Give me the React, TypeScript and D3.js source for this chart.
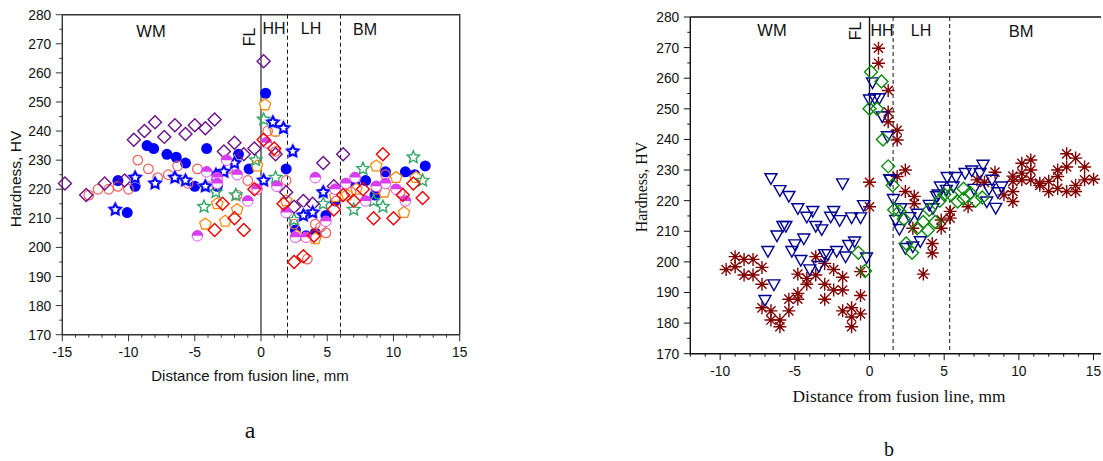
import React, { useEffect, useRef } from 'react';
import * as d3 from 'd3';

type Pt = [number, number];

// panel a series: [distance, hardness]
const blueDots: Pt[] = [[-10.8,223],[-10.1,212],[-9.5,221],[-8.6,235],[-8.1,234],[-7.1,232],[-6.4,231],[-5.7,229],[-5,221],[-4.1,234],[-3.3,221],[-1.7,232],[-0.9,227],[0.35,253],[1.1,240],[1.9,227],[2.6,206],[3.4,204],[4.1,205],[4.9,211],[5.6,216],[7.1,221.5],[7.9,223],[8.6,218],[9.4,226],[10.9,226],[11.6,225],[12.4,228]];
const orangePentagons: Pt[] = [[-4.2,208],[-3.3,215],[-2.7,209],[-1.8,213],[-0.3,228],[0.3,249],[1.1,240],[1.9,216],[2.7,204],[4.1,203],[5.6,217.5],[6.5,218],[7.2,220],[8.7,228],[9.3,219],[10.2,224],[10.8,212],[11.7,224]];
const coralRings: Pt[] = [[-13,218],[-12.3,220],[-11.5,220],[-10.8,221],[-10,220],[-9.3,230],[-8.5,227],[-7.8,224],[-7,225],[-6.3,228],[-5.5,222],[-4.8,227],[-4,221],[-3.3,223],[-2.5,227],[-1.8,218],[-1,223],[0.5,240],[1.1,233],[1.9,223],[2.5,208],[3.5,196],[4.1,208],[4.5,207],[4.9,205],[5.7,216],[6.8,219],[8.7,220],[9.4,225],[10.5,219]];
const magentaHalves: Pt[] = [[-4.8,204],[-4.1,226],[-3.3,224],[-3.3,222],[-2.6,230],[-1.8,225],[-1,216],[-0.3,220],[0.4,236],[1.2,221],[1.9,212],[2.6,203.5],[3.4,203.5],[4.1,224],[4.9,209],[5.6,220],[6.4,222],[7.1,224],[7.9,216],[8.7,221],[9.4,222],[10.2,220],[10.9,216]];
const redDiamonds: Pt[] = [[-3.5,206],[-2.9,215],[-2,210],[-1.3,206],[-0.5,220],[0.2,237],[1,234],[1.7,215],[2.5,195],[3.2,197],[4,204],[5.5,213],[6.2,218],[7,216],[7.7,220],[8.5,210],[9.2,232],[10,210],[10.7,218],[11.5,222],[12.2,217]];
const purpleDiamonds: Pt[] = [[-14.8,222],[-13.2,218],[-11.8,222],[-10.3,223],[-9.6,237],[-8.8,240],[-8,243],[-7.3,238],[-6.5,242],[-5.7,239],[-5,242],[-4.2,241],[-3.5,244],[-2.8,233],[-2,236],[-1.3,232],[-0.5,234],[0.2,264],[1.1,232],[1.9,219],[2.5,214],[3.2,216],[3.9,215],[4.7,229],[5.5,221],[6.2,232]];
const greenStars: Pt[] = [[-4.3,214],[-3.4,219],[-1.9,218],[-0.4,230],[0.2,244],[1.1,224],[2.5,209.5],[4.7,215],[7,213],[7.7,227],[8.5,216],[9.2,214],[11.5,231],[12.2,223]];
const blueStars: Pt[] = [[-11,213],[-9.5,224],[-8,222],[-6.5,224],[-5.7,223],[-4.2,221],[-3.4,225],[-2.8,226],[-2,229],[0.2,223],[0.9,243],[1.7,241],[2.4,233],[3.2,211],[3.9,212],[4.7,219]];

// panel b series
const redAsterisks: Pt[] = [[-9.6,197.5],[-9,198.4],[-9,201.7],[-8.4,200.8],[-8.4,195.7],[-7.8,200.8],[-7.8,195.7],[-7.2,198.2],[-7.2,192.7],[-7.2,185],[-6.6,184],[-6.6,181],[-6,181],[-6,178.8],[-5.4,184],[-5.4,187.8],[-4.8,189.7],[-4.8,187.8],[-4.8,196],[-4.2,194.6],[-4.2,192.7],[-3.6,201.7],[-3.6,195.7],[-3,199.5],[-3,192.7],[-3,187.8],[-2.4,197.5],[-2.4,190.8],[-1.8,195],[-1.8,190.8],[-1.8,184],[-1.2,185],[-1.2,182],[-1.2,178.8],[-0.6,183],[-0.6,189],[-0.6,196.8],[0,226],[0,218],[0.6,269.8],[0.6,264.9],[1.25,256],[1.25,249],[1.25,245.8],[1.85,243],[1.85,239.8],[2.4,230],[1.85,227.9],[2.4,223],[3,221.4],[3,219],[3.6,196],[2.9,211],[4.2,206],[4.2,202.9],[4.8,213.7],[4.8,211],[5.4,216.5],[5.4,214.3],[6.6,218],[7.2,226.8],[7.7,226],[8.4,229.3],[9,221.9],[9.6,226.3],[9.6,223],[9.6,219.7],[9.6,228],[10.2,232.2],[10.2,229],[10.2,226.8],[10.8,233.3],[10.8,230],[10.8,226.8],[11.4,225.7],[11.4,225],[12,226.3],[12,223],[12.6,230],[12.6,227.9],[12.6,224],[13.2,235.3],[13.2,231],[13.2,223],[13.8,233.9],[13.8,225],[13.8,223],[14.4,231],[14.4,226.8],[15,227]];
const navyTriangles: Pt[] = [[-6.6,227.3],[-6,223.4],[-5.4,221.5],[-4.8,217.5],[-3.8,216.6],[-4.2,214.7],[-3.6,211.7],[-3.2,210.6],[-2.6,214.7],[-2.4,216.6],[-2,213.6],[-1.2,214.5],[-0.6,214.5],[-0.4,218.5],[-1.8,225.6],[-5.8,211.7],[-5.6,211.7],[-6.2,208.6],[-6.8,203.5],[-5,205.7],[-4.4,207.6],[-5.2,203.5],[-4.6,200.6],[-4,197.5],[-3.4,198.6],[-3,202.5],[-2.8,202.5],[-2.2,203.5],[-1.6,201.7],[-1.4,205.5],[-1,206.6],[-0.2,201.4],[-6.4,192.6],[-7,187.5],[0.2,258.6],[0,253],[0.35,253.4],[0.65,253.4],[0.85,247.5],[1.2,241],[1.35,227],[1.4,226.8],[1.6,220.5],[2.1,217.5],[1.75,213.7],[2,210.7],[2.7,214.6],[3.2,215.7],[3.4,206.7],[2.9,205],[2.4,204.5],[4,218.6],[4.25,217.5],[4.5,221.4],[4.75,224.6],[5.2,227.7],[5.8,227.7],[6.4,229],[6.85,229.8],[7.6,231.7],[7.4,229],[8.2,226.8],[8,223.8],[7,223.8],[8.85,224.6],[8.6,222.7],[8.45,217.6],[7.85,219.7],[5.6,224.6],[5.15,223.5],[4.6,222]];
const greenDiamonds: Pt[] = [[-0.75,203],[-0.3,197],[0.1,262],[0.8,258.9],[0,250],[0.5,250],[0.9,240],[1.25,231.2],[1.55,225],[1.65,217],[2,216.5],[2.3,214],[2.45,206],[2.85,203],[3.2,211],[3.6,213],[3.9,210.3],[4,217],[4.4,213],[4.7,220],[5,222],[5.45,222],[5.9,219.7],[6.3,223.9],[6.3,220.6],[6.75,222.5],[7.1,220],[7.55,221]];

const hardnessTicks = [170, 180, 190, 200, 210, 220, 230, 240, 250, 260, 270, 280];
const leftDistanceTicks = [-15, -10, -5, 0, 5, 10, 15];
const rightDistanceTicks = [-10, -5, 0, 5, 10, 15];

const SANS = '"Liberation Sans", Arial, sans-serif';
const SERIF = '"Liberation Serif", "Times New Roman", serif';

// closed polygon around 0,0, optional inner radius makes it a star
const polygon = (n: number, r: number, inner?: number) => {
  const pts: [number, number][] = [];
  const count = inner ? n * 2 : n;
  for (let i = 0; i < count; i++) {
    pts.push([(i * 2 * Math.PI) / count, inner && i % 2 ? inner : r]);
  }
  return d3.lineRadial().curve(d3.curveLinearClosed)(pts) as string;
};

const circle = (r: number) => d3.symbol().type(d3.symbolCircle).size(Math.PI * r * r)() as string;

const App = () => {
  const ref = useRef<SVGSVGElement>(null);

  useEffect(() => {
    const svg = d3.select(ref.current);
    svg.selectAll('*').remove();

    const drawAxes = (
      x: d3.ScaleLinear<number, number>,
      y: d3.ScaleLinear<number, number>,
      xTicks: number[],
      minorStart: number,
      minorEnd: number,
      frameRight: boolean,
      color: string
    ) => {
      const g = svg.append('g').attr('stroke', color).attr('fill', 'none');
      const [x0, x1] = x.range();
      const [yBottom, yTop] = y.range();
      g.append('path').attr('d', `M${x0},${yTop}H${x1}${frameRight ? `V${yBottom}` : ''}`).attr('stroke-width', 1.4);
      g.append('path').attr('d', `M${x0},${yTop}V${yBottom}H${x1}`).attr('stroke-width', 1.4);

      d3.range(minorStart, minorEnd + 1).forEach((v) => {
        const len = v % 5 === 0 ? 6.5 : 3;
        g.append('line').attr('x1', x(v)).attr('x2', x(v)).attr('y1', yBottom).attr('y2', yBottom + len);
      });
      d3.range(170, 281, 5).forEach((v) => {
        const len = v % 10 === 0 ? 6.5 : 3;
        g.append('line').attr('x1', x0).attr('x2', x0 - len).attr('y1', y(v)).attr('y2', y(v));
      });

      const labels = svg.append('g').attr('font-family', SANS).attr('font-size', 13.8).attr('fill', '#111');
      xTicks.forEach((v) => {
        labels.append('text').attr('x', x(v)).attr('y', yBottom + 22).attr('text-anchor', 'middle').text(v);
      });
      hardnessTicks.forEach((v) => {
        labels.append('text').attr('x', x0 - 11).attr('y', y(v) + 5).attr('text-anchor', 'end').text(v);
      });
    };

    const drawZones = (
      x: d3.ScaleLinear<number, number>,
      y: d3.ScaleLinear<number, number>,
      d1: number,
      d2: number,
      color: string
    ) => {
      const [yBottom, yTop] = y.range();
      svg.append('line').attr('x1', x(0)).attr('x2', x(0)).attr('y1', yTop).attr('y2', yBottom).attr('stroke', color).attr('stroke-width', 1.4);
      [d1, d2].forEach((v) => {
        svg.append('line').attr('x1', x(v)).attr('x2', x(v)).attr('y1', yTop).attr('y2', yBottom)
          .attr('stroke', '#111').attr('stroke-width', 1).attr('stroke-dasharray', '4 3');
      });
    };

    const text = (s: string, tx: number, ty: number, size: number, family: string, rotate = 0) => {
      svg.append('text').attr('transform', `translate(${tx},${ty}) rotate(${rotate})`)
        .attr('text-anchor', 'middle').attr('font-family', family).attr('font-size', size).attr('fill', '#111').text(s);
    };

    const marks = (
      data: Pt[],
      x: d3.ScaleLinear<number, number>,
      y: d3.ScaleLinear<number, number>,
      d: string,
      stroke: string,
      fill: string,
      width: number
    ) => {
      svg.append('g').selectAll('path').data(data).join('path')
        .attr('transform', (p) => `translate(${x(p[0])},${y(p[1])})`)
        .attr('d', d).attr('stroke', stroke).attr('fill', fill).attr('stroke-width', width);
    };

    // panel a
    const xa = d3.scaleLinear().domain([-15, 15]).range([62.3, 459.7]);
    const ya = d3.scaleLinear().domain([170, 280]).range([334.7, 14.7]);
    drawZones(xa, ya, 2, 6, '#444');
    drawAxes(xa, ya, leftDistanceTicks, -15, 15, true, '#333');

    const diamond = polygon(4, 6.5);
    marks(blueDots, xa, ya, circle(5.5), 'none', '#0000ff', 0);
    marks(orangePentagons, xa, ya, polygon(5, 6), '#ff8c10', '#fff', 1.3);
    marks(coralRings, xa, ya, circle(4.8), '#f0605c', 'none', 1.2);
    marks(greenStars, xa, ya, polygon(5, 6.5, 3), '#2fa866', 'none', 1.4);
    marks(purpleDiamonds, xa, ya, diamond, '#6a1088', 'none', 1.4);
    marks(blueStars, xa, ya, polygon(5, 5.6, 2.9), '#c4b4fa', 'none', 3.4);
    marks(blueStars, xa, ya, polygon(5, 5.6, 2.9), '#0000ff', '#fff', 2);

    const topHalf = d3.arc()({ innerRadius: 0, outerRadius: 5.5, startAngle: -Math.PI / 2, endAngle: Math.PI / 2 }) as string;
    marks(magentaHalves, xa, ya, circle(5.3), '#d63ef0', '#fff', 0.9);
    marks(magentaHalves, xa, ya, topHalf, 'none', '#d63ef0', 0);
    marks(redDiamonds, xa, ya, diamond, '#f00000', 'none', 1.4);

    text('WM', 151, 37, 16.5, SANS);
    text('FL', 255, 37, 16, SANS, -90);
    text('HH', 274, 34, 16, SANS);
    text('LH', 311, 34, 16, SANS);
    text('BM', 365, 35, 16, SANS);
    text('Hardness, HV', 21, 179, 15.5, SANS, -90);
    text('Distance from fusion line, mm', 250, 381, 15, SANS);
    text('a', 250, 438, 24, SERIF);

    // panel b
    const xb = d3.scaleLinear().domain([-12, 15.5]).range([690.3, 1101]);
    const yb = d3.scaleLinear().domain([170, 280]).range([353.7, 17]);
    drawZones(xb, yb, 1.58, 5.37, '#111');
    drawAxes(xb, yb, rightDistanceTicks, -12, 15, false, '#111');

    const asterisk = d3.range(4).map((i) => {
      const a = (i * Math.PI) / 4;
      const dx = 6.5 * Math.cos(a);
      const dy = 6.5 * Math.sin(a);
      return `M${-dx},${-dy}L${dx},${dy}`;
    }).join('');
    const triangle = d3.line().curve(d3.curveLinearClosed)([[-6, -4.6], [6, -4.6], [0, 6]]) as string;
    marks(redAsterisks, xb, yb, asterisk, '#800000', 'none', 1.4);
    marks(navyTriangles, xb, yb, triangle, '#000090', 'none', 1.4);
    marks(greenDiamonds, xb, yb, diamond, '#0a8a0a', 'none', 1.4);

    text('WM', 772, 36, 16.5, SANS);
    text('FL', 861, 31, 16, SANS, -90);
    text('HH', 882, 36, 16, SANS);
    text('LH', 921, 36, 16, SANS);
    text('BM', 1021, 37, 16.5, SANS);
    text('Hardness, HV', 647, 187, 16, SERIF, -90);
    text('Distance from fusion line, mm', 899, 402, 17.4, SERIF);
    text('b', 889, 456, 20, SERIF);
  }, []);

  return <svg ref={ref} width={1103} height={461} style={{ position: 'absolute', left: 0, top: 0, background: '#fff' }} />;
};

export default App;
